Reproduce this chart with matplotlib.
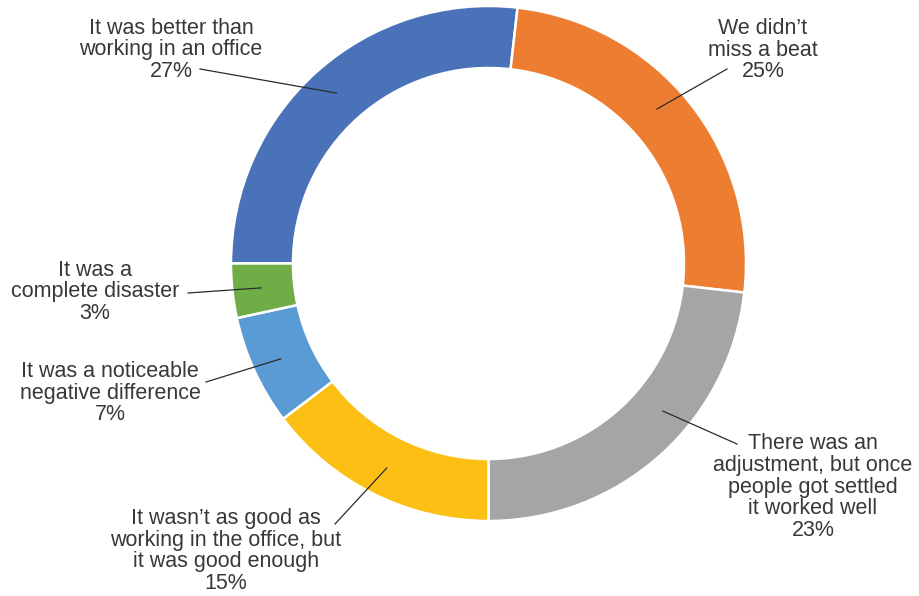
import numpy as np
import matplotlib.pyplot as plt

labels = [
    'It was better than\nworking in an office',
    'We didn\u2019t\nmiss a beat',
    'There was an\nadjustment, but once\npeople got settled\nit worked well',
    'It wasn\u2019t as good as\nworking in the office, but\nit was good enough',
    'It was a noticeable\nnegative difference',
    'It was a\ncomplete disaster',
]
values = [26.8, 25.0, 23.2, 14.7, 6.9, 3.4]
colors = ['#4a72b8', '#ed7d31', '#a5a5a5', '#fcbf14', '#5b9bd5', '#70ad47']

# label block centres (pixels from top-left), leader start points, angle tweaks
label_xy = [(171, 50), (763, 50), (813, 487), (226, 551), (110, 393), (95, 292)]
line_start = [(200, 69), (727, 69), (737, 444), (335, 524), (206, 382), (188, 293)]
angle_tweak = [0, 4, 8, 0, 0, 0]

W, H = 919, 596
fig = plt.figure(figsize=(W / 100, H / 100), dpi=100)
ax = fig.add_axes([0, 0, 1, 1])

cx, cy, R = 488.5, H - 263.5, 257.5
wedges, _ = ax.pie(values, colors=colors, startangle=180, counterclock=False,
                   center=(cx, cy), radius=R, frame=True,
                   wedgeprops=dict(width=62, edgecolor='white', linewidth=1.8))
ax.set_xlim(0, W)
ax.set_ylim(0, H)
ax.axis('off')

for w, lab, v, (tx, ty), (sx, sy), tw in zip(wedges, labels, values, label_xy,
                                             line_start, angle_tweak):
    mid = np.deg2rad((w.theta1 + w.theta2) / 2 + tw)
    r = R - 29
    px, py = cx + r * np.cos(mid), cy + r * np.sin(mid)
    ax.text(tx, H - ty, f'{lab}\n{round(v)}%', ha='center', va='center',
            fontsize=15.5, color='#383838', family='Liberation Sans',
            linespacing=1.06)
    ax.plot([sx, px], [H - sy, py], color='#2b2b2b', lw=0.9)

fig.savefig('out.png', dpi=100)
